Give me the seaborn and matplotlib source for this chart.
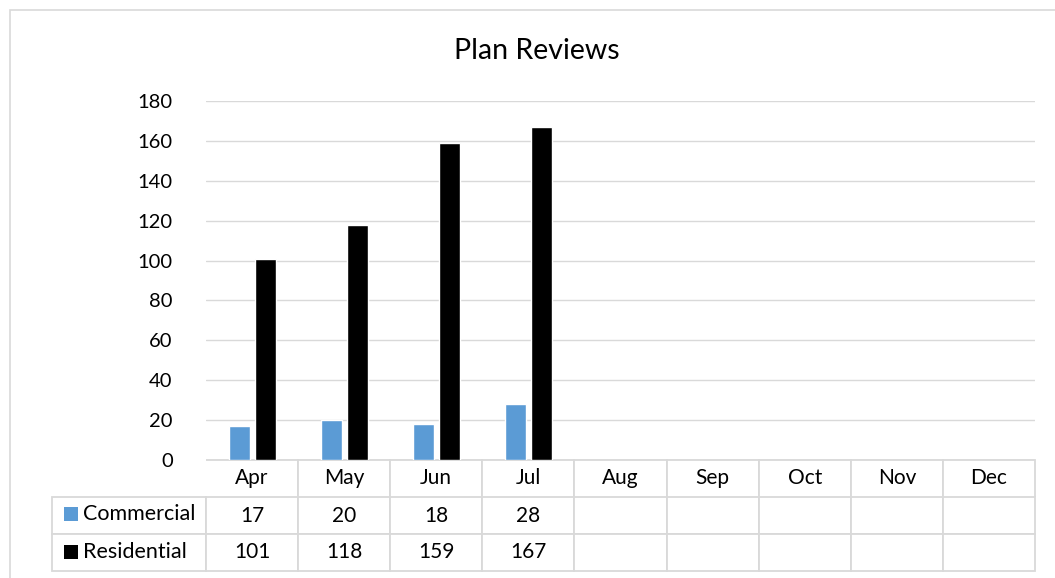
import pandas as pd
import numpy as np
import matplotlib.pyplot as plt
import seaborn as sns
from matplotlib.patches import Rectangle

sns.set_theme(style="white")
plt.rcParams['font.family'] = ['Lato', 'DejaVu Sans']
plt.rcParams['text.color'] = 'black'

months = ["Apr", "May", "Jun", "Jul", "Aug", "Sep", "Oct", "Nov", "Dec"]
commercial = [17, 20, 18, 28, None, None, None, None, None]
residential = [101, 118, 159, 167, None, None, None, None, None]
series = ["Commercial", "Residential"]
colors = {"Commercial": "#5B9BD5", "Residential": "#000000"}

df = pd.DataFrame({"month": months * 2,
                   "series": ["Commercial"] * 9 + ["Residential"] * 9,
                   "value": commercial + residential})

fig = plt.figure(figsize=(10.55, 5.78), dpi=100)
ax = fig.add_axes([206 / 1055, 1 - 460 / 578, 829 / 1055, 359 / 578])

sns.barplot(data=df.dropna(), x="month", y="value", hue="series", order=months,
            hue_order=series, palette=colors, width=0.564, gap=0.19,
            ax=ax, legend=False, saturation=1)

ax.set_ylim(0, 180)
ax.set_xlim(-0.5, 8.5)
ax.set_yticks(range(0, 181, 20))
ax.tick_params(axis="y", labelsize=14.5, length=0, pad=24, colors="black")
ax.set_xticks([])
ax.set_xlabel("")
ax.set_ylabel("")
ax.yaxis.grid(True, color="#D9D9D9", linewidth=1)
ax.set_axisbelow(True)
for s in ax.spines.values():
    s.set_visible(False)

fig.text(0.509, 1 - 51 / 578, "Plan Reviews", ha="center", va="center", fontsize=20.5)

# data table under the axis
fmt = lambda v: "" if v is None else str(v)
cell_text = [[""] + months,
             [""] + [fmt(v) for v in commercial],
             [""] + [fmt(v) for v in residential]]
col_w = [154] + [829 / 9] * 9
tbl = ax.table(cellText=cell_text, colWidths=col_w,
               bbox=[-154 / 829, -111 / 359, 983 / 829, 111 / 359], cellLoc="center")
tbl.auto_set_font_size(False)
tbl.set_fontsize(15)
for (r, c), cell in tbl.get_celld().items():
    cell.set_edgecolor("#D9D9D9")
    cell.set_linewidth(1.3)
    cell.get_text().set_color("black")
    if r == 0 and c == 0:
        cell.visible_edges = ""
    elif r == 0:
        cell.visible_edges = "LTR" if c > 1 else "TR"

# legend keys and names in table
for i, s in enumerate(series):
    y = -(35 + 19 + 38 * i) / 359
    ax.add_patch(Rectangle((-142 / 829, y - 7 / 359), 14 / 829, 14 / 359,
                           transform=ax.transAxes, clip_on=False,
                           facecolor=colors[s], edgecolor="none"))
    ax.text(-123 / 829, y, s, transform=ax.transAxes, ha="left", va="center",
            fontsize=15.5, color="black")

# outer chart border
fig.patches.append(Rectangle((10 / 1055, -0.1), 1.2, 1 - 10 / 578 + 0.1,
                             transform=fig.transFigure, fill=False,
                             edgecolor="#D9D9D9", linewidth=1.2))

fig.savefig("out.png", dpi=100)
